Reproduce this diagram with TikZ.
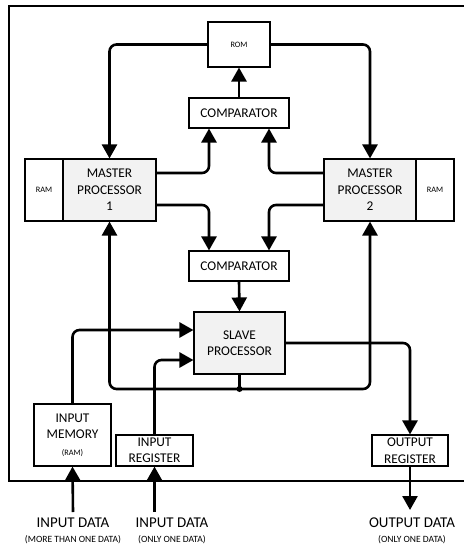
\documentclass[tikz,border=0pt]{standalone}
\usepackage{fontspec}
\setmainfont{Carlito}
\usetikzlibrary{arrows.meta}
\definecolor{procgray}{HTML}{F2F2F2}

\begin{document}
\begin{tikzpicture}[x=1bp,y=-1bp,
  box/.style={rectangle,draw,line width=1.1bp,inner sep=0pt,
    align=center,font=\fontsize{13.4}{16.5}\selectfont},
  smallbox/.style={box,font=\fontsize{8.3}{10}\selectfont},
  proc/.style={box,fill=procgray},
  arr/.style={-{Triangle[length=14bp,width=15bp]},line width=2.6bp,
    rounded corners=7bp},
  bigtxt/.style={font=\fontsize{15}{17}\selectfont,inner sep=0pt},
  subtxt/.style={font=\fontsize{9.6}{11}\selectfont,inner sep=0pt}]

  \useasboundingbox (0,0) rectangle (464,547);
  \draw[line width=1.1bp] (466,6) -- (9,6) -- (9,481) -- (466,481);

  \node[smallbox,minimum width=62bp,minimum height=45bp] (rom) at (239,44.5) {ROM};
  \node[box,minimum width=100bp,minimum height=30bp] (cmp1) at (239,113) {COMPARATOR};

  \node[smallbox,minimum width=38bp,minimum height=62bp] (ram1) at (44,190) {RAM};
  \node[proc,minimum width=93bp,minimum height=62bp] (mp1) at (109.5,190) {MASTER\\PROCESSOR\\1};
  \node[proc,minimum width=92bp,minimum height=62bp] (mp2) at (370,190) {MASTER\\PROCESSOR\\2};
  \node[smallbox,minimum width=38bp,minimum height=62bp] (ram2) at (435,190) {RAM};

  \node[box,minimum width=100bp,minimum height=30bp] (cmp2) at (239,266) {COMPARATOR};
  \node[proc,minimum width=91bp,minimum height=62bp] (slave) at (239.5,343) {SLAVE\\PROCESSOR};

  \node[box,minimum width=77bp,minimum height=62bp] (inmem) at (72.5,435)
    {INPUT\\MEMORY\\{\fontsize{8.3}{16}\selectfont (RAM)}};
  \node[box,minimum width=77bp,minimum height=31bp] (inreg) at (154.5,450.5) {INPUT\\REGISTER};
  \node[box,minimum width=76bp,minimum height=31bp] (outreg) at (410,450.5) {OUTPUT\\REGISTER};

  \coordinate (jn) at (239.5,389);
  \coordinate (src1) at (73,512);
  \coordinate (src2) at (154.5,512);
  \coordinate (dst) at (410,510);

  \node[bigtxt] (lbl1) at (73,523) {INPUT DATA};
  \node[subtxt] (sub1) at (73,540) {(MORE THAN ONE DATA)};
  \node[bigtxt] (lbl2) at (172,523) {INPUT DATA};
  \node[subtxt] (sub2) at (172,540) {(ONLY ONE DATA)};
  \node[bigtxt] (lbl3) at (412,523) {OUTPUT DATA};
  \node[subtxt] (sub3) at (412,540) {(ONLY ONE DATA)};

  % rom and comparators
  \draw[arr] (rom.west) -| (mp1.north);
  \draw[arr] (rom.east) -| (mp2.north);
  \draw[arr] (cmp1.north) -- (rom.south);
  \draw[arr] ([yshift=17bp]mp1.east) -| ([xshift=-30bp]cmp1.south);
  \draw[arr] ([yshift=17bp]mp2.west) -| ([xshift=30bp]cmp1.south);
  \draw[arr] ([yshift=-15bp]mp1.east) -| ([xshift=-30bp]cmp2.north);
  \draw[arr] ([yshift=-15bp]mp2.west) -| ([xshift=30bp]cmp2.north);
  \draw[arr] (cmp2.south) -- (slave.north);

  % slave processor
  \draw[arr] (inmem.north) |- ([yshift=13bp]slave.west);
  \draw[arr] (inreg.north) |- ([yshift=-17bp]slave.west);
  \draw[arr] (slave.east) -| (outreg.north);
  \draw[line width=2.6bp] (slave.south) -- (jn);
  \draw[arr] (jn) -| (mp1.south);
  \draw[arr] (jn) -| (mp2.south);
  \fill (jn) circle (3bp);

  % data in and out
  \draw[arr] (src1) -- (inmem.south);
  \draw[arr] (src2) -- (inreg.south);
  \draw[arr] (outreg.south) -- (dst);
\end{tikzpicture}
\end{document}
